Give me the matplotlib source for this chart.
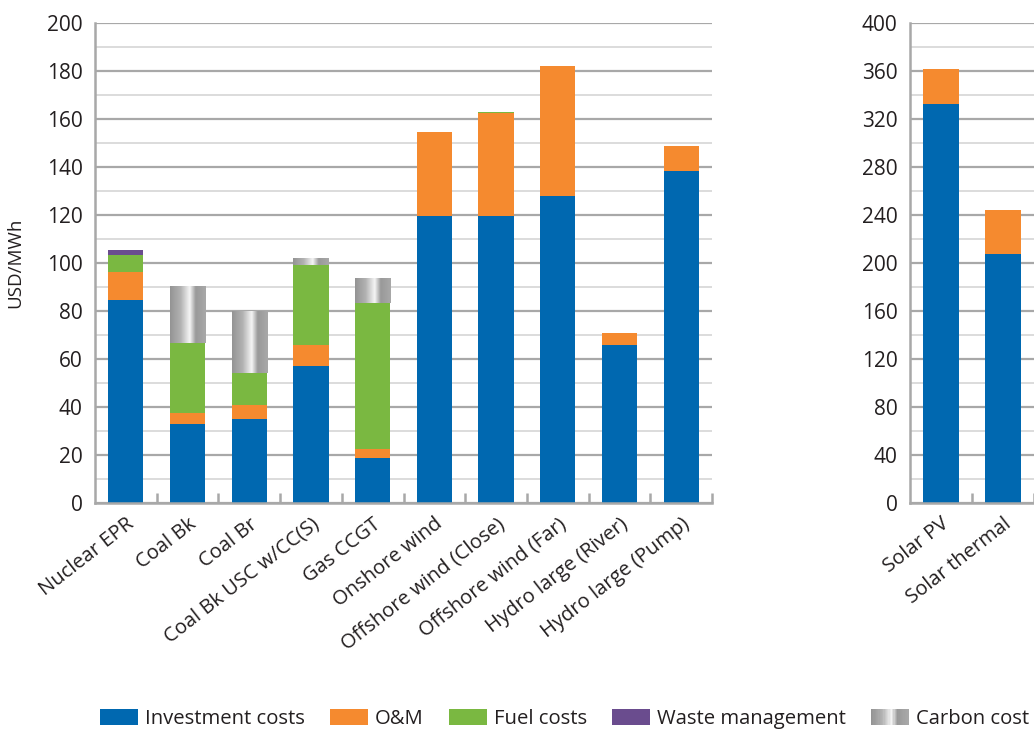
import numpy as np
import matplotlib
matplotlib.use("Agg")
import matplotlib.pyplot as plt
from matplotlib.patches import Patch, Rectangle
from matplotlib.legend_handler import HandlerBase

# data (USD/MWh)
categories = ["Nuclear EPR", "Coal Bk", "Coal Br", "Coal Bk USC w/CC(S)", "Gas CCGT",
              "Onshore wind", "Offshore wind (Close)", "Offshore wind (Far)",
              "Hydro large (River)", "Hydro large (Pump)"]
investment = [84.7, 32.8, 35.1, 57.2, 18.9, 119.7, 119.7, 128.0, 66.0, 138.5]
om = [11.7, 4.8, 5.6, 8.8, 3.7, 35.0, 42.9, 54.2, 4.9, 10.4]
fuel = [7.1, 28.9, 13.5, 33.3, 60.9, 0.0, 0.4, 0.0, 0.0, 0.0]
waste = [2.0, 0.0, 0.0, 0.0, 0.0, 0.0, 0.0, 0.0, 0.0, 0.0]
carbon = [0.0, 23.5, 25.5, 2.9, 10.4, 0.0, 0.0, 0.0, 0.0, 0.0]

solar_categories = ["Solar PV", "Solar thermal"]
solar_investment = [332.4, 207.9]
solar_om = [28.9, 36.2]

series_names = ["Investment costs", "O&M", "Fuel costs", "Waste management", "Carbon cost"]
colors = ["#0068B0", "#F58A2F", "#7AB841", "#6A4C8E", "#A0A0A0"]

text_col = "#231F20"
major_grid = "#A8A8A8"
minor_grid = "#D2D2D2"
plt.rcParams["font.family"] = ["Open Sans", "DejaVu Sans"]

# gray "metal" shading of the carbon cost bars
def carbon_shade(n):
    t = np.linspace(0, 1, n)
    return np.interp(t, [0, 0.3, 0.55, 0.72, 1.0], [0.58, 0.70, 0.96, 0.60, 0.66])

BAR_W = 0.57


def draw_stack(ax, x, layers):
    bottom = np.zeros(len(x))
    for name, vals, col in layers:
        vals = np.asarray(vals, dtype=float)
        if name == "Carbon cost":
            shade = carbon_shade(64)
            img = np.tile(shade, (2, 1))
            for xi, b, v in zip(x, bottom, vals):
                if v <= 0:
                    continue
                ax.imshow(img, cmap="gray", vmin=0, vmax=1, aspect="auto",
                          extent=[xi - BAR_W / 2, xi + BAR_W / 2, b, b + v],
                          interpolation="bilinear", zorder=2)
        else:
            ax.bar(x, vals, BAR_W, bottom=bottom, color=col, zorder=2, linewidth=0)
        bottom = bottom + vals


def style_axes(ax, n, ymax, step):
    ax.set_xlim(-0.5, n - 0.5)
    ax.set_ylim(0, ymax)
    ax.set_yticks(np.arange(0, ymax + 1, step))
    ax.set_yticks(np.arange(step / 2, ymax, step), minor=True)
    ax.grid(axis="y", which="major", color=major_grid, lw=1.6, zorder=0)
    ax.grid(axis="y", which="minor", color=minor_grid, lw=1.1, zorder=0)
    ax.set_axisbelow(True)
    for s in ["top", "right"]:
        ax.spines[s].set_visible(False)
    for s in ["left", "bottom"]:
        ax.spines[s].set_color(major_grid)
        ax.spines[s].set_linewidth(1.8)
    ax.tick_params(axis="y", which="both", length=0, labelsize=15, labelcolor=text_col, pad=9)
    ax.set_xticks(np.arange(n))
    ax.set_xticks(np.arange(n) + 0.5, minor=True)
    ax.tick_params(axis="x", which="major", length=0, pad=8)
    ax.tick_params(axis="x", which="minor", direction="in", length=7, width=1.8, color=major_grid)


fig = plt.figure(figsize=(10.34, 7.32), dpi=100)

ax = fig.add_axes([95 / 1034, 1 - 503 / 732, 617 / 1034, 480 / 732])
x = np.arange(len(categories))
draw_stack(ax, x, [("Investment costs", investment, colors[0]),
                   ("O&M", om, colors[1]),
                   ("Fuel costs", fuel, colors[2]),
                   ("Waste management", waste, colors[3]),
                   ("Carbon cost", carbon, colors[4])])
style_axes(ax, len(categories), 200, 20)
ax.set_xticklabels(categories, rotation=38, ha="right", va="top",
                   rotation_mode="anchor", fontsize=14.5, color=text_col)

ax2 = fig.add_axes([910 / 1034, 1 - 503 / 732, 124 / 1034, 480 / 732])
x2 = np.arange(len(solar_categories))
draw_stack(ax2, x2, [("Investment costs", solar_investment, colors[0]),
                     ("O&M", solar_om, colors[1])])
style_axes(ax2, len(solar_categories), 400, 40)
ax2.set_xticklabels(solar_categories, rotation=38, ha="right", va="top",
                    rotation_mode="anchor", fontsize=14.5, color=text_col)

fig.text(15 / 1034, 1 - 263 / 732, "USD/MWh", rotation=90, ha="center", va="center",
         fontsize=13.5, color=text_col)


class GradientHandler(HandlerBase):
    def create_artists(self, legend, orig_handle, xdescent, ydescent, width, height,
                       fontsize, trans):
        shade = carbon_shade(30)
        n = len(shade)
        arts = []
        for i, g in enumerate(shade):
            arts.append(Rectangle((-xdescent + width * i / n, -ydescent), width / n * 1.08, height,
                                  facecolor=(g, g, g), edgecolor="none", transform=trans))
        return arts


handles = [Patch(facecolor=c, edgecolor="none") for c in colors]
fig.legend(handles, series_names, loc="center", bbox_to_anchor=(0.546, 1 - 719 / 732),
           ncol=5, frameon=False, fontsize=14.6, handlelength=1.85, handleheight=0.85,
           handletextpad=0.35, columnspacing=1.25, labelcolor=text_col,
           borderaxespad=0, borderpad=0,
           handler_map={handles[4]: GradientHandler()})

fig.savefig("out.png", dpi=100)
